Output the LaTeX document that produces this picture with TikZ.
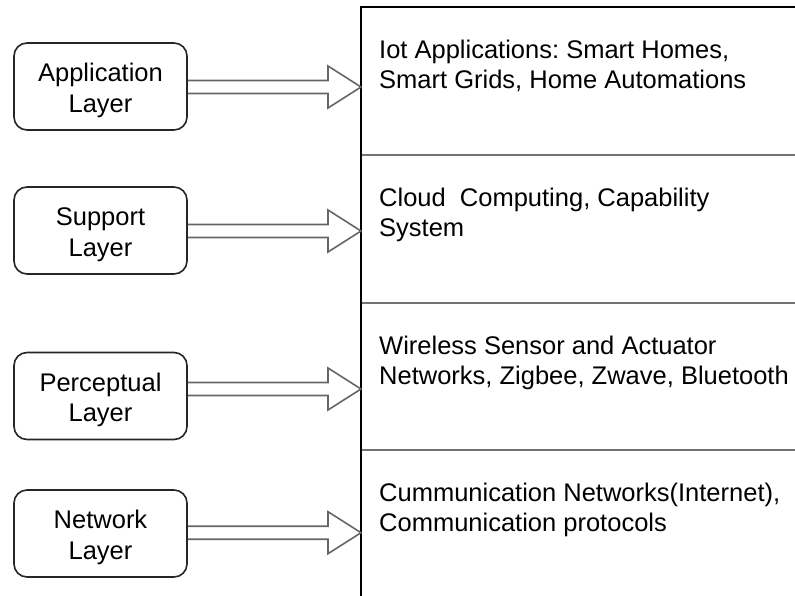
\documentclass[tikz,border=0pt]{standalone}
\usepackage{fontspec}
\setmainfont{Liberation Sans}
\usetikzlibrary{calc}
\frenchspacing

% hollow block arrow from a layer box to the left edge of its band
\newcommand\layerarrow[3]{%
  \draw[bigarrow]
    ($(#1.east)+(0,#3-6.5)$) --
    ($(#1.east -| #2.west)+(-33,#3-6.5)$) --
    ($(#1.east -| #2.west)+(-33,#3-21)$) --
    ($(#1.east -| #2.west)+(0,#3)$) --
    ($(#1.east -| #2.west)+(-33,#3+21)$) --
    ($(#1.east -| #2.west)+(-33,#3+6.5)$) --
    ($(#1.east)+(0,#3+6.5)$);}
% two-line caption of a layer box, first line with a tall strut
\newcommand\twolines[2]{\rule{0pt}{26.5pt}#1\\#2}

\begin{document}
\begin{tikzpicture}[x=1pt,y=-1pt,
  txt/.style={font=\fontsize{25.5}{30.6}\selectfont, text=black},
  layer/.style={txt, draw=black!85, line width=1.6pt, rounded corners=13pt,
    minimum width=173pt, minimum height=87pt, inner sep=0pt, align=center},
  band/.style={anchor=north west, minimum width=440pt, inner sep=0pt},
  desc/.style={txt, anchor=north west, inner sep=0pt, align=left},
  edge/.style={black, line width=1.8pt},
  sep/.style={black!55, line width=2.6pt},
  bigarrow/.style={draw=black!60, line width=1.6pt, line join=miter}]

\useasboundingbox (0,0) rectangle (795,595);

% bands of the right-hand column
\node[band, minimum height=148pt] (s1) at (361,7) {};
\node[band, minimum height=148pt] (s2) at (361,155) {};
\node[band, minimum height=147pt] (s3) at (361,303) {};
\node[band, minimum height=150pt] (s4) at (361,450) {};

\draw[sep] (s2.north west) -- (s2.north east);
\draw[sep] (s3.north west) -- (s3.north east);
\draw[sep] (s4.north west) -- (s4.north east);
\draw[edge] (s1.north east) -- (s1.north west) -- (s4.south west);

% band contents
\node[desc] (d1) at ($(s1.north west)+(18,32.5)$)
  {Iot Applications: Smart Homes,\\Smart Grids, Home Automations};
\node[desc] (d2) at ($(s2.north west)+(18,32.5)$)
  {Cloud~ Computing, Capability\\System};
\node[desc] (d3) at ($(s3.north west)+(18,32.5)$)
  {Wireless Sensor and Actuator\\Networks, Zigbee, Zwave, Bluetooth};
\node[desc] (d4) at ($(s4.north west)+(18,32.5)$)
  {Cummunication Networks(Internet),\\Communication protocols};

% layer boxes
\node[layer] (app) at (100.5,86.5) {\twolines{Application}{Layer}};
\node[layer] (sup) at (100.5,230.5) {\twolines{Support}{Layer}};
\node[layer] (per) at (100.5,396) {\twolines{Perceptual}{Layer}};
\node[layer] (net) at (100.5,533.5) {\twolines{Network}{Layer}};

% arrows
\layerarrow{app}{s1}{0.5}
\layerarrow{sup}{s2}{0.5}
\layerarrow{per}{s3}{-7}
\layerarrow{net}{s4}{-0.8}
\end{tikzpicture}
\end{document}
